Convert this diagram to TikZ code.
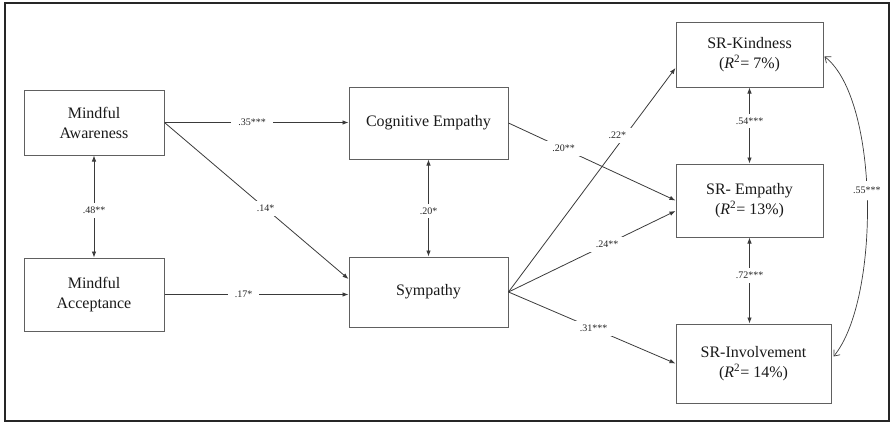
\documentclass[tikz,border=0pt]{standalone}
\usepackage{fontspec}
\setmainfont{Liberation Serif}
\usetikzlibrary{arrows.meta,calc}
\definecolor{linec}{HTML}{3A3A3A}
\definecolor{boxc}{HTML}{606060}
\tikzset{
  box/.style={draw=boxc, line width=1pt, align=center, font=\fontsize{16}{20}\selectfont, text=black!90, inner sep=0pt},
  conn/.style={draw=linec, line width=0.8pt, -{Latex[length=6pt,width=4.5pt]}},
  bic/.style={draw=linec, line width=0.8pt, {Latex[length=6pt,width=4.5pt]}-{Latex[length=6pt,width=4.5pt]}},
  curvc/.style={draw=linec, line width=0.7pt, {Straight Barb[length=5pt,width=8pt]}-{Straight Barb[length=5pt,width=8pt]}},
  lbl/.style={fill=white, font=\fontsize{10}{12}\selectfont, text=black!85, inner xsep=7pt, inner ysep=4pt}
}
\begin{document}
\begin{tikzpicture}[x=1pt,y=-1pt]
\useasboundingbox (0,0) rectangle (892,423);
\draw[line width=1.2pt, draw=black!85] (5,3) rectangle (889,421);

\node[box, minimum width=140pt, minimum height=65pt] (ma) at (94,122.5) {Mindful\\Awareness};
\node[box, minimum width=140pt, minimum height=73pt] (macc) at (94,294.5) {Mindful\\Acceptance};
\node[box, minimum width=159pt, minimum height=72pt] (ce) at (428.5,123) {Cognitive Empathy};
\node[box, minimum width=159pt, minimum height=70pt] (sym) at (428.5,292) {Sympathy};
\node[box, minimum width=147pt, minimum height=65pt] (srk) at (749.5,54.5) {SR-Kindness\\(\textit{R}\textsuperscript{2}= 7\%)};
\node[box, minimum width=147pt, minimum height=73pt] (sre) at (749.5,200.5) {SR- Empathy\\(\textit{R}\textsuperscript{2}= 13\%)};
\node[box, minimum width=155pt, minimum height=79pt] (sri) at (753.5,363.5) {SR-Involvement\\(\textit{R}\textsuperscript{2}= 14\%)};

\path[conn] (ma.east) -- (ma.east -| ce.west) node[lbl, pos=0.476] {.35***};
\path[conn] (ma.east) -- ($(sym.west)+(0,-13)$) node[lbl, pos=0.55] {.14*};
\path[conn] (macc.east) -- (macc.east -| sym.west) node[lbl, pos=0.43] {.17*};
\path[bic] (ma.south) -- (macc.north) node[lbl, pos=0.54] {.48**};
\path[bic] (ce.south) -- (sym.north) node[lbl, pos=0.53] {.20*};

\path[conn] (ce.east) -- (sre.west) node[lbl, pos=0.33] {.20**};
\path[conn] (sym.east) -- ($(srk.west)+(0,13.5)$) node[lbl, pos=0.7, xshift=-8pt, inner xsep=9pt] {.22*};
\path[conn] (sym.east) -- ($(sre.west)+(0,10.5)$) node[lbl, pos=0.59] {.24**};
\path[conn] (sym.east) -- (sri.west) node[lbl, pos=0.51] {.31***};

\path[bic] (srk.south) -- (sre.north) node[lbl, pos=0.44] {.54***};
\path[bic] (sre.south) -- (sre.south |- sri.north) node[lbl, pos=0.44] {.72***};

\path[curvc] ($(srk.east)+(1,2)$) .. controls (880,100) and (880,300) .. ($(sri.east)+(2,-7)$) node[lbl, pos=0.47, inner xsep=2pt, inner ysep=6pt] {.55***};
\end{tikzpicture}
\end{document}
